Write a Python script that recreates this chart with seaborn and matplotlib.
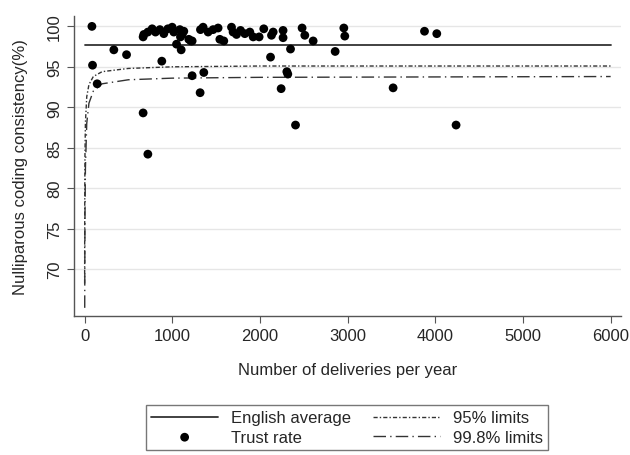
import numpy as np
import pandas as pd
import seaborn as sns
import matplotlib
matplotlib.use('Agg')
import matplotlib.pyplot as plt

# trust rates
deliveries = [84, 91, 144, 334, 479, 668, 722, 668, 881, 1049, 1102, 1227, 1360, 1318,
              1212, 2406, 2242, 2307, 2318, 2349, 2121, 2264, 2264, 2481, 2512, 2607,
              2858, 2957, 2968, 3877, 4017, 3519, 4237,
              676, 722, 771, 809, 859, 904, 950, 999, 1018, 1087, 1113, 1132, 1094,
              1189, 1227, 1322, 1352, 1409, 1466, 1523, 1543, 1588, 1676, 1694, 1733,
              1779, 1828, 1885, 1923, 1991, 2044, 2132, 2151]
consistency = [100.0, 95.2, 92.9, 97.1, 96.5, 89.3, 84.2, 98.7, 95.7, 97.8, 97.1, 93.9, 94.3, 91.8,
               98.2, 87.8, 92.3, 94.4, 94.1, 97.2, 96.2, 99.5, 98.6, 99.8, 98.9, 98.2,
               96.9, 99.8, 98.8, 99.4, 99.1, 92.4, 87.8,
               99.0, 99.3, 99.7, 99.3, 99.6, 99.1, 99.7, 99.9, 99.3, 99.6, 99.0, 99.4, 98.7,
               98.4, 98.2, 99.6, 99.9, 99.3, 99.6, 99.8, 98.4, 98.2, 99.9, 99.3, 99.0,
               99.5, 99.1, 99.3, 98.7, 98.7, 99.7, 98.9, 99.3]

avg_x = [0, 6000]
avg_y = [97.7, 97.7]

lim95_n = [1, 2, 3, 5, 10, 25, 50, 100, 200, 500, 1000, 2000, 4000, 6000]
lim95_y = [68.2, 76.8, 80.5, 84.3, 88.1, 91.3, 92.8, 93.8, 94.4, 94.8, 95.0, 95.1, 95.1, 95.1]

lim998_n = [2, 3, 5, 10, 25, 50, 100, 200, 500, 1000, 2000, 4000, 6000]
lim998_y = [65.2, 70.7, 76.6, 82.5, 88.0, 90.5, 92.0, 92.9, 93.4, 93.6, 93.7, 93.75, 93.8]

sns.set_style('white')
plt.rcParams['font.family'] = ['Liberation Sans', 'DejaVu Sans']

fig = plt.figure(figsize=(6.3, 4.56), dpi=100)
ax = fig.add_axes([0.1175, 0.305, 0.8685, 0.658])

pts = pd.DataFrame({'n': deliveries, 'pct': consistency})

sns.lineplot(x=avg_x, y=avg_y, color='#333333', lw=1.3, ax=ax, label='English average')
sns.scatterplot(data=pts, x='n', y='pct', color='black', s=40, edgecolor='none',
                ax=ax, label='Trust rate', zorder=3)
sns.lineplot(x=lim95_n, y=lim95_y, color='#333333', lw=1.0, ax=ax, estimator=None,
             linestyle=(0, (3, 1.5, 1, 1.5)), label='95% limits')
sns.lineplot(x=lim998_n, y=lim998_y, color='#333333', lw=1.0, ax=ax, estimator=None,
             linestyle=(0, (9, 3, 1, 3)), label='99.8% limits')

ax.set_xlim(-120, 6120)
ax.set_ylim(64.2, 101.3)
ax.set_xticks(range(0, 6001, 1000))
ax.set_yticks(range(70, 101, 5))
ax.tick_params(axis='y', labelrotation=90)
for lbl in ax.get_yticklabels():
    lbl.set_va('center')
ax.tick_params(direction='out', length=5, width=0.8, color='#555555', labelsize=12,
               left=True, bottom=True)
ax.yaxis.grid(True, color='#e6e6e6', lw=1)
ax.set_axisbelow(True)
for side in ['top', 'right']:
    ax.spines[side].set_visible(False)
for side in ['left', 'bottom']:
    ax.spines[side].set_color('#555555')
    ax.spines[side].set_linewidth(1)

ax.set_xlabel('Number of deliveries per year', fontsize=12, labelpad=14)
ax.set_ylabel('Nulliparous coding consistency(%)', fontsize=12, labelpad=14)

handles, labels = ax.get_legend_handles_labels()
ax.get_legend().remove()
leg = fig.legend(handles, labels, ncol=2, loc='upper center', bbox_to_anchor=(0.551, 0.127),
                 fontsize=12, frameon=True, fancybox=False, edgecolor='#555555',
                 handlelength=4.0, handletextpad=0.8, columnspacing=1.3,
                 borderpad=0.3, labelspacing=0.25)
leg.get_frame().set_linewidth(1)

fig.savefig('out.png', dpi=100)
